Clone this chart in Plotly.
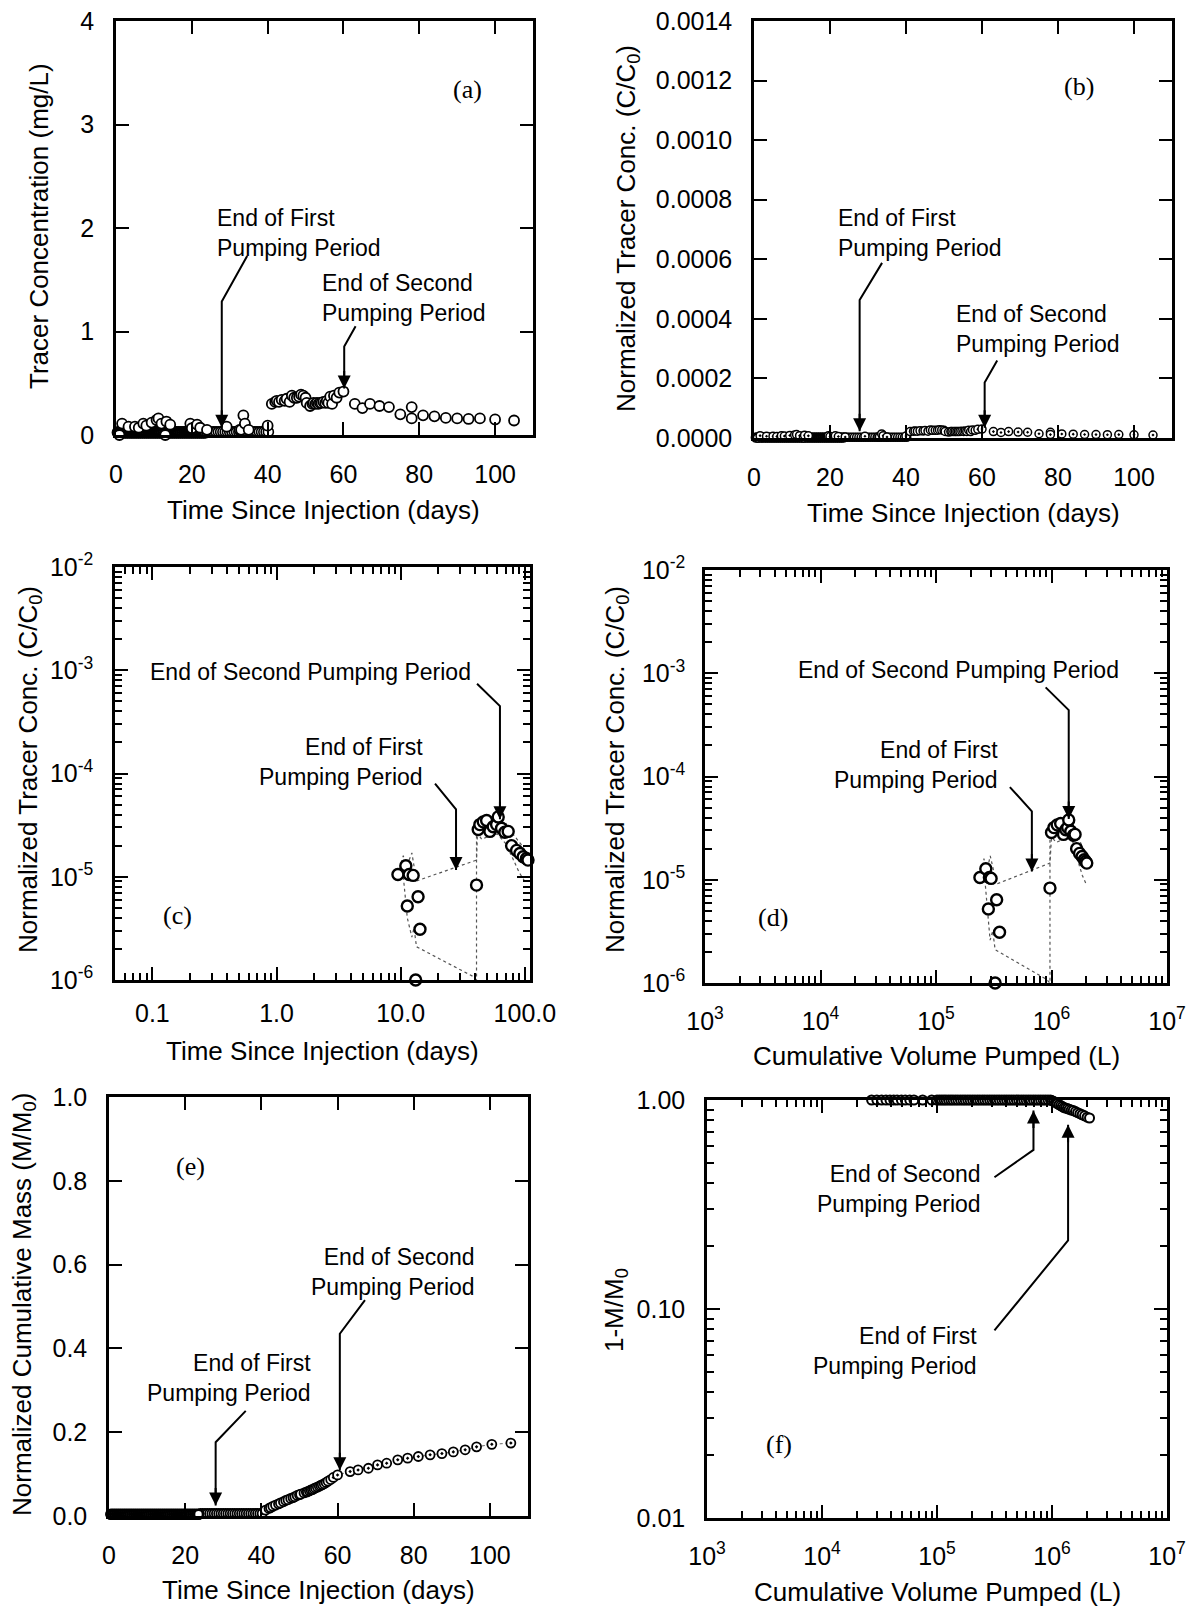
import math
import plotly.graph_objects as go

FIG_W, FIG_H = 1198, 1608
SANS = "Liberation Sans, Arial, Helvetica, sans-serif"
SERIF = "Liberation Serif, Times New Roman, serif"

# ------------------------------------------------------------------ data
# sampling times near the detection limit (days 0-40)
t_low_a = [
    0.5, 1.0, 1.5, 2.0, 2.5, 3.0, 3.5, 4.0, 4.5, 5.0,
    5.5, 6.0, 6.5, 7.0, 7.5, 8.0, 8.5, 9.0, 9.5, 10.0,
    10.5, 11.0, 11.5, 12.0, 12.5, 13.0, 13.5, 14.0, 14.5, 15.0,
    15.5, 16.0, 16.5, 17.0, 17.5, 18.0, 18.5, 19.0, 19.5, 20.0,
    20.5, 21.0, 21.5, 22.0, 22.5, 23.0, 23.5]
t_low_b = [
    24.0, 24.6, 25.2, 25.8, 26.4, 27.0, 27.6, 28.2, 28.8, 29.4,
    30.0, 30.6, 31.2, 31.8, 32.4, 33.0, 33.6, 34.2, 34.8, 35.4,
    36.0, 36.6, 37.2, 37.8, 38.4, 39.0, 39.6, 40.2]
conc_low_a = [
    0.025, 0.025, 0.025, 0.025, 0.025, 0.025, 0.025, 0.025, 0.025, 0.025,
    0.025, 0.025, 0.025, 0.025, 0.025, 0.025, 0.025, 0.025, 0.025, 0.025,
    0.025, 0.025, 0.025, 0.025, 0.025, 0.025, 0.025, 0.025, 0.025, 0.025,
    0.025, 0.025, 0.025, 0.025, 0.025, 0.025, 0.025, 0.025, 0.025, 0.025,
    0.025, 0.025, 0.025, 0.025, 0.025, 0.025, 0.025]
conc_low_b = [
    0.03, 0.03, 0.03, 0.03, 0.03, 0.03, 0.03, 0.03, 0.03, 0.03,
    0.03, 0.03, 0.03, 0.03, 0.03, 0.03, 0.03, 0.03, 0.03, 0.03,
    0.03, 0.03, 0.03, 0.03, 0.03, 0.03, 0.03, 0.03]

# (a) scattered early detections
t_early = [0.9, 1.6, 3.3, 5.0, 6.0, 7.2, 8.0, 9.4, 10.7, 11.2, 12.0, 13.0, 13.3,
           14.3, 19.6, 20.0, 21.4, 22.2, 24.0, 29.2, 32.6, 33.0, 33.6, 34.0, 35.0, 40.0]
conc_early = [0.0, 0.11, 0.08, 0.08, 0.07, 0.11, 0.09, 0.12, 0.145, 0.16, 0.11, 0.0, 0.13,
              0.10, 0.11, 0.065, 0.10, 0.07, 0.05, 0.08, 0.05, 0.05, 0.19, 0.11, 0.05, 0.09]

# second pumping period samples (days 41-60)
t_plateau = [41.1, 42.0, 42.4, 43.0, 43.7, 44.5, 45.0, 45.8, 46.4, 47.0,
             47.7, 48.3, 48.8, 49.4, 50.0, 50.3, 51.2, 51.8, 52.1, 52.6,
             53.0, 53.4, 53.8, 54.2, 54.7, 55.2, 55.6, 56.0, 56.5, 57.0,
             57.5, 58.2, 58.9, 60.0]
conc_plateau = [0.30, 0.32, 0.33, 0.32, 0.34, 0.33, 0.35, 0.32, 0.38, 0.36,
                0.36, 0.37, 0.39, 0.38, 0.36, 0.31, 0.28, 0.30, 0.31, 0.30,
                0.31, 0.30, 0.31, 0.31, 0.32, 0.31, 0.33, 0.31, 0.37, 0.30,
                0.38, 0.36, 0.41, 0.42]

# (a) after the second pumping period
t_post = [63, 65, 67, 69.5, 72, 75, 78, 78, 81, 84, 87, 90, 93, 96, 100, 105]
conc_post = [0.30, 0.26, 0.30, 0.28, 0.27, 0.20, 0.27, 0.16, 0.19, 0.18,
             0.165, 0.16, 0.155, 0.16, 0.15, 0.14]

# (b) injected concentration used for normalisation C/C0
C0_MG_PER_L = 14000.0

# (c)/(d) detections on log scale: time, cumulative volume, C/C0
t_cd = [9.5, 11.0, 11.7, 12.6, 11.3, 13.8, 14.3, 13.2, 40.8, 42.1, 43.4, 46.2, 49.2,
        52.3, 55.6, 59.2, 61.0, 64.9, 69.0, 73.4, 78.2, 85.8, 91.2, 96.9, 103.0, 106.0]
vol_cd = [2.4e5, 2.7e5, 2.9e5, 3.0e5, 2.84e5, 3.35e5, 3.55e5, 3.25e5, 9.7e5, 1.0e6, 1.05e6,
          1.12e6, 1.2e6, 1.27e6, 1.33e6, 1.38e6, 1.41e6, 1.47e6, 1.55e6, 1.6e6, 1.65e6,
          1.75e6, 1.84e6, 1.92e6, 1.97e6, 2.02e6]
cc0_cd = [1.05e-5, 1.28e-5, 1.05e-5, 1.03e-5, 5.2e-6, 6.4e-6, 3.1e-6, 1.0e-6, 8.3e-6,
          2.87e-5, 3.2e-5, 3.4e-5, 3.5e-5, 2.75e-5, 3.05e-5, 3.2e-5, 3.8e-5, 2.95e-5,
          2.7e-5, 2.75e-5, 2.0e-5, 1.8e-5, 1.68e-5, 1.56e-5, 1.5e-5, 1.45e-5]

# (c)/(d) dotted uncertainty bounds
t_upper = [9.5, 10.5, 11.0, 12.3, 13.4, 40.8, 41.5, 44.0, 50.0, 60.0, 70.0, 80.0, 95.0, 106.0]
vol_upper = [2.4e5, 2.6e5, 2.75e5, 2.95e5, 3.35e5, 9.7e5, 1.0e6, 1.05e6, 1.2e6, 1.4e6,
             1.55e6, 1.7e6, 1.9e6, 2.05e6]
cc0_upper = [1.05e-5, 1.6e-5, 1.2e-5, 1.7e-5, 9.1e-6, 1.45e-5, 2.6e-5, 3.5e-5, 3.7e-5,
             3.9e-5, 3.3e-5, 2.6e-5, 2.0e-5, 1.6e-5]
t_lower = [10.5, 11.3, 12.3, 12.8, 13.4, 38.4, 40.8, 40.8, 45.0, 52.0, 60.0, 70.0, 80.0, 90.0, 100.0]
vol_lower = [2.65e5, 2.84e5, 2.94e5, 3.1e5, 3.25e5, 9.1e5, 9.7e5, 9.7e5, 1.1e6, 1.3e6,
             1.45e6, 1.6e6, 1.7e6, 1.85e6, 2.0e6]
cc0_lower = [1.0e-5, 4.0e-6, 2.6e-6, 3.2e-6, 2.1e-6, 1.08e-6, 1.0e-6, 2.7e-5, 2.3e-5,
             2.5e-5, 2.6e-5, 2.1e-5, 1.5e-5, 1.1e-5, 9.0e-6]

# (e) normalized cumulative mass M/M0 (same sampling times as (a))
mass_low_a = [
    0.004, 0.004, 0.004, 0.004, 0.004, 0.004, 0.004, 0.004, 0.004, 0.004,
    0.004, 0.004, 0.004, 0.004, 0.004, 0.004, 0.004, 0.004, 0.004, 0.004,
    0.004, 0.004, 0.004, 0.004, 0.004, 0.004, 0.004, 0.004, 0.004, 0.004,
    0.004, 0.004, 0.004, 0.004, 0.004, 0.004, 0.004, 0.004, 0.004, 0.004,
    0.004, 0.004, 0.004, 0.004, 0.004, 0.004, 0.004]
mass_low_b = [
    0.006, 0.006, 0.006, 0.006, 0.006, 0.006, 0.006, 0.006, 0.006, 0.006,
    0.006, 0.006, 0.006, 0.006, 0.006, 0.006, 0.006, 0.006, 0.006, 0.006,
    0.006, 0.006, 0.006, 0.006, 0.006, 0.006, 0.006, 0.006]
mass_rise = [0.014, 0.018, 0.020, 0.023, 0.026, 0.029, 0.031, 0.034, 0.037, 0.039,
             0.042, 0.044, 0.046, 0.049, 0.051, 0.052, 0.055, 0.057, 0.058, 0.060,
             0.062, 0.063, 0.065, 0.067, 0.069, 0.071, 0.073, 0.075, 0.077, 0.080,
             0.083, 0.087, 0.092, 0.098]
t_mass_post = [63.3, 65.4, 68.1, 70.5, 72.9, 75.8, 78.4, 81.2, 84.3, 87.4, 90.4, 93.5,
               96.5, 100.5, 105.5]
mass_post = [0.106, 0.110, 0.114, 0.122, 0.126, 0.134, 0.138, 0.142, 0.146, 0.149,
             0.153, 0.158, 0.165, 0.171, 0.174]

# (f) 1 - M/M0 versus cumulative volume pumped (L)
vol_f = [
    2.7e4, 3.0e4, 3.3e4, 3.6e4, 3.9e4, 4.2e4, 4.5e4, 4.9e4, 5.3e4, 5.8e4,
    6.3e4, 7.5e4, 9.0e4,
    1.0e5, 1.05e5, 1.1e5, 1.15e5, 1.2e5, 1.26e5, 1.32e5, 1.38e5, 1.45e5, 1.52e5,
    1.6e5, 1.68e5, 1.76e5, 1.85e5, 1.94e5, 2.04e5, 2.14e5, 2.25e5, 2.36e5, 2.48e5,
    2.6e5, 2.73e5, 2.87e5, 3.01e5, 3.16e5, 3.32e5, 3.48e5, 3.66e5, 3.84e5, 4.03e5,
    4.23e5, 4.44e5, 4.66e5, 4.9e5, 5.14e5, 5.4e5, 5.67e5, 5.95e5, 6.25e5, 6.56e5,
    6.89e5, 7.23e5, 7.59e5, 7.97e5, 8.37e5, 8.79e5, 9.23e5, 9.7e5,
    9.9e5, 1.03e6, 1.07e6, 1.11e6, 1.15e6, 1.19e6, 1.23e6, 1.27e6, 1.31e6, 1.36e6,
    1.41e6, 1.47e6, 1.53e6, 1.6e6, 1.67e6, 1.75e6, 1.83e6, 1.92e6, 2.02e6, 2.12e6]
remain_f = [
    1.0, 1.0, 1.0, 1.0, 1.0, 1.0, 1.0, 1.0, 1.0, 1.0,
    1.0, 1.0, 1.0,
    1.0, 1.0, 1.0, 1.0, 1.0, 1.0, 1.0, 1.0, 1.0, 1.0,
    1.0, 1.0, 1.0, 1.0, 1.0, 1.0, 1.0, 1.0, 1.0, 1.0,
    1.0, 1.0, 1.0, 1.0, 1.0, 1.0, 1.0, 1.0, 1.0, 1.0,
    1.0, 1.0, 1.0, 1.0, 1.0, 1.0, 1.0, 1.0, 1.0, 1.0,
    1.0, 1.0, 1.0, 1.0, 1.0, 1.0, 1.0, 1.0,
    0.995, 0.985, 0.975, 0.96, 0.95, 0.94, 0.93, 0.92, 0.915, 0.91,
    0.902, 0.895, 0.89, 0.88, 0.87, 0.86, 0.85, 0.84, 0.828, 0.82]

# tick labels for the power-of-ten axes
conc_decades = [1e-6, 1e-5, 1e-4, 1e-3, 1e-2]
conc_decade_labels = ["10<sup>-6</sup>", "10<sup>-5</sup>", "10<sup>-4</sup>",
                      "10<sup>-3</sup>", "10<sup>-2</sup>"]
vol_decades = [1e3, 1e4, 1e5, 1e6, 1e7]
vol_decade_labels = ["10<sup>3</sup>", "10<sup>4</sup>", "10<sup>5</sup>",
                     "10<sup>6</sup>", "10<sup>7</sup>"]

# ------------------------------------------------------------------ layout geometry (px)
PANELS = {
    # name: (x0, x1, ytop, ybottom)
    "a": (116, 533, 21, 435),
    "b": (754, 1172, 21, 438),
    "c": (115, 530, 567, 980),
    "d": (705, 1167, 570, 983),
    "e": (109, 528, 1097, 1516),
    "f": (707, 1167, 1100, 1518),
}
AXID = {"a": "", "b": "2", "c": "3", "d": "4", "e": "5", "f": "6"}
LOGX = {"c": True, "d": True, "f": True}
LOGY = {"c": True, "d": True, "f": True}


def lg(v, is_log):
    return math.log10(v) if is_log else v


fig = go.Figure()


def circles(p, x, y, size=10, lw=1.8, symbol="circle", mode="markers", line=None):
    tr = go.Scatter(
        x=x, y=y, mode=mode,
        marker=dict(symbol=symbol, size=size, color="white",
                    line=dict(color="black", width=lw)),
        xaxis="x" + AXID[p], yaxis="y" + AXID[p],
        cliponaxis=False, showlegend=False, hoverinfo="skip")
    if line is not None:
        tr.line = line
    fig.add_trace(tr)


def dotted(p, x, y):
    fig.add_trace(go.Scatter(
        x=x, y=y, mode="lines", line=dict(color="#555555", width=1.2, dash="dot"),
        xaxis="x" + AXID[p], yaxis="y" + AXID[p], showlegend=False, hoverinfo="skip"))


# (a)
circles("a", t_low_a, conc_low_a, lw=2.6)
circles("a", t_low_b, conc_low_b, lw=1.6)
circles("a", t_early, conc_early)
circles("a", t_plateau, conc_plateau)
circles("a", t_post, conc_post)

# (b)  normalized by C0
circles("b", t_low_a, [c / C0_MG_PER_L for c in conc_low_a], size=8, lw=2.6)
for tt, cc in ((t_low_b, conc_low_b), (t_early, conc_early),
               (t_plateau, conc_plateau), (t_post, conc_post)):
    circles("b", tt, [c / C0_MG_PER_L for c in cc], size=8, lw=1.5, symbol="circle-dot")

# (c)
dotted("c", t_upper, cc0_upper)
dotted("c", t_lower, cc0_lower)
circles("c", t_cd, cc0_cd, size=11, lw=2.4)

# (d)
dotted("d", vol_upper, cc0_upper)
dotted("d", vol_lower, cc0_lower)
circles("d", vol_cd, cc0_cd, size=11, lw=2.4)

# (e)
circles("e", t_low_a + t_low_b + t_plateau + t_mass_post,
        mass_low_a + mass_low_b + mass_rise + mass_post,
        size=9, lw=1.8, symbol="circle-dot", mode="lines+markers",
        line=dict(color="#666666", width=1, dash="dot"))
circles("e", t_low_a, mass_low_a, size=9, lw=2.6)

# (f)
circles("f", vol_f, remain_f, size=9, lw=2.0)

# ------------------------------------------------------------------ call-outs
callouts = [
    ("a", "End of First<br>Pumping Period", 26.1, 1.955, "left",
     [(34.6, 1.73), (27.9, 1.29), (27.9, 0.07)], False),
    ("a", "End of Second<br>Pumping Period", 53.7, 1.325, "left",
     [(63.2, 1.05), (60.2, 0.855), (60.2, 0.45)], False),
    ("b", "End of First<br>Pumping Period", 21.5, 0.000689, "left",
     [(33.7, 0.000588), (27.8, 0.000463), (27.8, 0.0000226)], False),
    ("b", "End of Second<br>Pumping Period", 52.5, 0.000365, "left",
     [(64.0, 0.00026), (60.7, 0.000186), (60.7, 0.000034)], False),
    ("c", "End of Second Pumping Period", 0.093, 9.6e-4, "left",
     [(41.2, 7.4e-4), (63, 4.5e-4), (63, 3.6e-5)], False),
    ("c", "End of First<br>Pumping Period", 15.8, 1.29e-4, "right",
     [(18.9, 8e-5), (27.9, 4.5e-5), (27.9, 1.16e-5)], False),
    ("d", "End of Second Pumping Period", 6.1e3, 1.07e-3, "left",
     [(8.9e5, 7.3e-4), (1.41e6, 4.4e-4), (1.41e6, 3.87e-5)], False),
    ("d", "End of First<br>Pumping Period", 3.6e5, 1.3e-4, "right",
     [(4.36e5, 7.9e-5), (6.76e5, 4.6e-5), (6.76e5, 1.2e-5)], False),
    ("e", "End of Second<br>Pumping Period", 96.5, 0.5835, "right",
     [(67.2, 0.515), (60.6, 0.435), (60.6, 0.109)], False),
    ("e", "End of First<br>Pumping Period", 53.5, 0.3285, "right",
     [(35.9, 0.251), (28.0, 0.176), (28.0, 0.025)], False),
    ("f", "End of Second<br>Pumping Period", 2.52e5, 0.376, "right",
     [(3.16e5, 0.427), (6.9e5, 0.577), (6.9e5, 0.891)], True),
    ("f", "End of First<br>Pumping Period", 2.33e5, 0.0629, "right",
     [(3.16e5, 0.079), (1.38e6, 0.213), (1.38e6, 0.762)], True),
]

for p, text, tx, ty, anchor, path, up in callouts:
    xa, ya = "x" + AXID[p], "y" + AXID[p]
    xl, yl = LOGX.get(p, False), LOGY.get(p, False)
    fig.add_trace(go.Scatter(
        x=[q[0] for q in path], y=[q[1] for q in path], mode="lines",
        line=dict(color="black", width=2), xaxis=xa, yaxis=ya,
        showlegend=False, hoverinfo="skip", cliponaxis=False))
    tip = path[-1]
    fig.add_annotation(x=lg(tip[0], xl), y=lg(tip[1], yl), xref=xa, yref=ya,
                       ax=0, ay=(26 if up else -26), showarrow=True, arrowhead=2,
                       arrowsize=1.3, arrowwidth=2, arrowcolor="black", text=" ")
    fig.add_annotation(x=lg(tx, xl), y=lg(ty, yl), xref=xa, yref=ya, text=text,
                       showarrow=False, xanchor=anchor, yanchor="middle", align=anchor,
                       font=dict(family=SANS, size=23, color="black"))

panel_letters = [("a", 92.8, 3.34), ("b", 85.5, 0.00118), ("c", 0.158, 4.2e-6),
                 ("d", 3.9e3, 4.3e-6), ("e", 21.5, 0.833), ("f", 4.2e3, 0.0225)]
for p, lx, ly in panel_letters:
    fig.add_annotation(x=lg(lx, LOGX.get(p, False)), y=lg(ly, LOGY.get(p, False)),
                       xref="x" + AXID[p], yref="y" + AXID[p], text="(" + p + ")",
                       showarrow=False, font=dict(family=SERIF, size=26, color="black"))

# ------------------------------------------------------------------ axes
TITLE_FONT = dict(family=SANS, size=26, color="black")
TICK_FONT = dict(family=SANS, size=25, color="black")

x_titles = {"a": "Time Since Injection (days)", "b": "Time Since Injection (days)",
            "c": "Time Since Injection (days)", "d": "Cumulative Volume Pumped (L)",
            "e": "Time Since Injection (days)", "f": "Cumulative Volume Pumped (L)"}
y_titles = {"a": "Tracer Concentration (mg/L)",
            "b": "Normalized Tracer Conc. (C/C<sub>0</sub>)",
            "c": "Normalized Tracer Conc. (C/C<sub>0</sub>)",
            "d": "Normalized Tracer Conc. (C/C<sub>0</sub>)",
            "e": "Normalized Cumulative Mass (M/M<sub>0</sub>)",
            "f": "1-M/M<sub>0</sub>"}
x_title_pos = {"a": (324, 510), "b": (963, 513), "c": (322, 1051),
               "d": (936, 1056), "e": (318, 1590), "f": (937, 1592)}
y_title_pos = {"a": (39, 226), "b": (628, 229), "c": (29, 770),
               "d": (616, 770), "e": (23, 1305), "f": (615, 1310)}

common = dict(showline=True, linewidth=2.5, linecolor="black", mirror="ticks",
              ticks="inside", ticklen=13, tickwidth=2, tickcolor="black",
              showgrid=False, zeroline=False, tickfont=TICK_FONT, automargin=False)
minor = dict(ticks="inside", ticklen=7, tickwidth=1.5, tickcolor="black",
             dtick="D1", showgrid=False)

xspec = {
    "a": dict(range=[0, 110], dtick=20, tick0=0, ticklabelstandoff=15),
    "b": dict(range=[0, 110], dtick=20, tick0=0, ticklabelstandoff=15),
    "c": dict(type="log", range=[math.log10(0.05), math.log10(110)], dtick=1,
              tickformat=".1f", minor=minor, ticklabelstandoff=9),
    "d": dict(type="log", range=[3, 7], tickmode="array", tickvals=vol_decades,
              ticktext=vol_decade_labels, minor=minor, ticklabelstandoff=14),
    "e": dict(range=[0, 110], dtick=20, tick0=0, ticklabelstandoff=15),
    "f": dict(type="log", range=[3, 7], tickmode="array", tickvals=vol_decades,
              ticktext=vol_decade_labels, minor=minor, ticklabelstandoff=14),
}
yspec = {
    "a": dict(range=[0, 4], dtick=1, tick0=0, ticklabelstandoff=14),
    "b": dict(range=[0, 0.0014], dtick=0.0002, tick0=0, tickformat=".4f",
              ticklabelstandoff=14),
    "c": dict(type="log", range=[-6, -2], tickmode="array", tickvals=conc_decades,
              ticktext=conc_decade_labels, minor=minor, ticklabelstandoff=14),
    "d": dict(type="log", range=[-6, -2], tickmode="array", tickvals=conc_decades,
              ticktext=conc_decade_labels, minor=minor, ticklabelstandoff=12),
    "e": dict(range=[0, 1], dtick=0.2, tick0=0, tickformat=".1f", ticklabelstandoff=14),
    "f": dict(type="log", range=[-2, 0], dtick=1, tickformat=".2f", minor=minor,
              ticklabelstandoff=14),
}

layout_axes = {}
for p, (x0, x1, yt, yb) in PANELS.items():
    sfx = AXID[p]
    layout_axes["xaxis" + sfx] = dict(
        domain=[x0 / FIG_W, x1 / FIG_W], anchor="y" + sfx, **common, **xspec[p])
    layout_axes["yaxis" + sfx] = dict(
        domain=[1 - yb / FIG_H, 1 - yt / FIG_H], anchor="x" + sfx, **common, **yspec[p])
    tx, ty = x_title_pos[p]
    fig.add_annotation(x=tx / FIG_W, y=1 - ty / FIG_H, xref="paper", yref="paper",
                       text=x_titles[p], showarrow=False, xanchor="center",
                       yanchor="middle", font=TITLE_FONT)
    vx, vy = y_title_pos[p]
    fig.add_annotation(x=vx / FIG_W, y=1 - vy / FIG_H, xref="paper", yref="paper",
                       text=y_titles[p], showarrow=False, textangle=-90,
                       xanchor="center", yanchor="middle", font=TITLE_FONT)

fig.update_layout(
    width=FIG_W, height=FIG_H,
    margin=dict(l=0, r=0, t=0, b=0, autoexpand=False),
    paper_bgcolor="white", plot_bgcolor="white",
    font=dict(family=SANS, color="black"),
    showlegend=False,
    **layout_axes,
)

fig.write_html("out.html",
               config={"displayModeBar": False},
               post_script="document.body.style.margin='0px';"
                           "document.body.style.overflow='hidden';")
